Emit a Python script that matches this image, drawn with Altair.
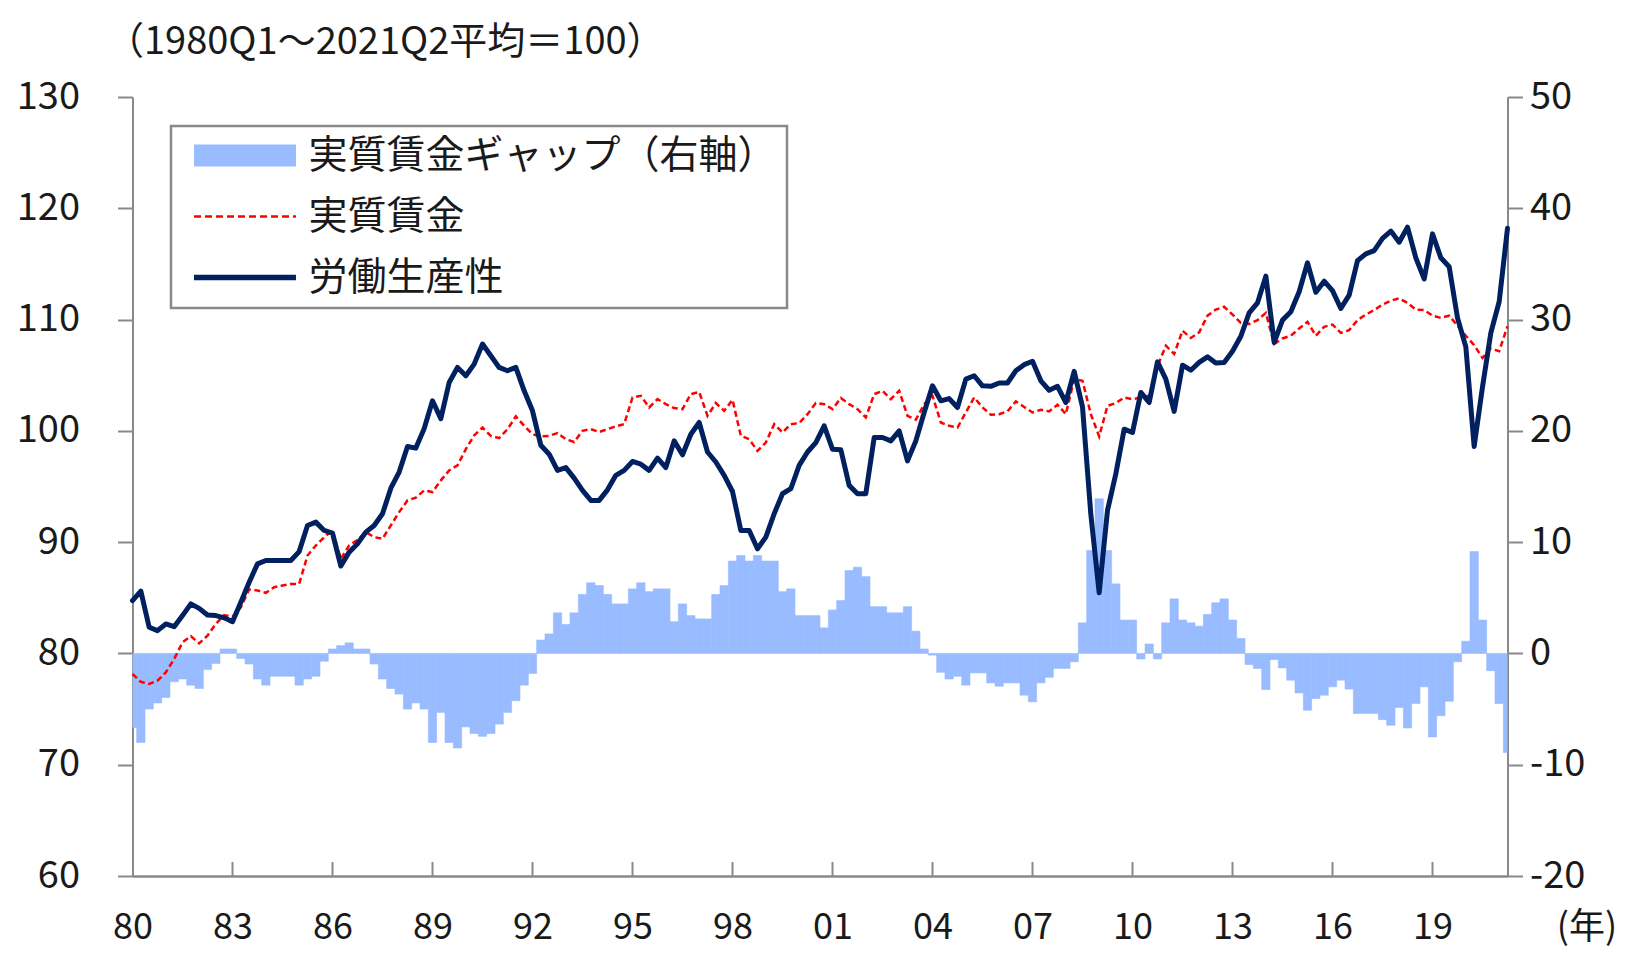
import altair as alt
import pandas as pd

FONT = "Noto Sans CJK JP"
GRAY = "#898989"
TXT = "#1a1a1a"
BLUE = "#99BBFF"
RED = "#FF0000"
NAVY = "#002060"

# 1980Q1 ... 2021Q2 (166 quarters)
start_year = 1980
productivity = [
    84.75, 85.6, 82.35, 82.05, 82.65, 82.4, 83.4, 84.45, 84.05, 83.45,
    83.4, 83.2, 82.85, 84.6, 86.4, 88.05, 88.35, 88.35, 88.35, 88.35,
    89.15, 91.5, 91.8, 91.05, 90.8, 87.85, 89.1, 89.85, 90.9, 91.5,
    92.55, 94.85, 96.3, 98.6, 98.45, 100.2, 102.7, 101.1, 104.35, 105.7,
    104.95, 106.0, 107.8, 106.75, 105.7, 105.4, 105.7, 103.6, 101.8, 98.7,
    97.9, 96.45, 96.7, 95.75, 94.65, 93.75, 93.75, 94.7, 96.0, 96.45,
    97.25, 97.0, 96.45, 97.55, 96.7, 99.1, 97.85, 99.7, 100.75, 98.1,
    97.2, 96.0, 94.55, 91.05, 91.05, 89.4, 90.45, 92.55, 94.35, 94.8,
    96.9, 98.1, 98.95, 100.45, 98.35, 98.3, 95.1, 94.35, 94.35, 99.4,
    99.4, 99.1, 100.0, 97.3, 99.1, 101.65, 104.05, 102.7, 102.9, 102.1,
    104.65, 104.95, 104.05, 104.0, 104.3, 104.3, 105.4, 105.95, 106.25, 104.5,
    103.65, 104.0, 102.55, 105.35, 102.15, 92.5, 85.45, 92.85, 96.15, 100.15,
    99.85, 103.45, 102.55, 106.2, 104.65, 101.75, 105.9, 105.45, 106.15, 106.65,
    106.1, 106.15, 107.15, 108.5, 110.6, 111.5, 113.9, 107.95, 109.95, 110.7,
    112.5, 115.1, 112.45, 113.45, 112.6, 111.0, 112.2, 115.3, 115.9, 116.2,
    117.3, 117.95, 116.95, 118.3, 115.55, 113.65, 117.7, 115.55, 114.75, 110.15,
    107.55, 98.6, 103.95, 108.8, 111.6, 118.2,
]
real_wage = [
    78.15, 77.45, 77.25, 77.55, 78.3, 79.5, 81.0, 81.55, 80.9, 81.6,
    82.65, 83.45, 83.3, 84.15, 85.75, 85.65, 85.45, 85.95, 86.1, 86.25,
    86.25, 88.8, 89.7, 90.45, 91.05, 88.5, 89.7, 90.2, 90.9, 90.45,
    90.3, 91.5, 92.7, 93.75, 94.0, 94.65, 94.5, 95.55, 96.45, 96.9,
    98.35, 99.6, 100.3, 99.55, 99.35, 100.15, 101.3, 100.45, 99.7, 99.5,
    99.55, 99.8, 99.25, 99.0, 100.0, 100.15, 99.9, 100.15, 100.4, 100.6,
    103.0, 103.15, 102.1, 102.85, 102.4, 102.05, 101.95, 103.3, 103.5, 101.35,
    102.5, 101.8, 102.8, 99.55, 99.25, 98.2, 98.95, 100.6, 99.85, 100.6,
    100.7, 101.5, 102.5, 102.4, 101.95, 102.95, 102.4, 101.95, 101.2, 103.3,
    103.6, 102.85, 103.6, 101.35, 101.0, 102.4, 103.15, 100.75, 100.45, 100.3,
    101.65, 103.0, 102.1, 101.45, 101.5, 101.75, 102.65, 102.15, 101.65, 101.9,
    101.75, 102.35, 101.5, 104.65, 104.5, 101.5, 99.5, 102.25, 102.5, 103.0,
    102.85, 103.0, 103.15, 105.8, 107.65, 106.9, 109.0, 108.35, 108.85, 110.35,
    110.9, 111.15, 110.45, 109.7, 109.6, 109.95, 110.6, 107.8, 108.3, 108.55,
    109.2, 109.8, 108.55, 109.35, 109.55, 108.8, 109.05, 109.95, 110.45, 110.85,
    111.35, 111.7, 111.9, 111.5, 110.9, 110.85, 110.35, 110.15, 110.35, 109.45,
    108.55, 107.7, 106.55, 107.4, 107.15, 109.4,
]
wage_gap = [
    -6.65, -8.0, -5.0, -4.45, -3.95, -2.55, -2.3, -2.85, -3.15, -1.45,
    -0.9, 0.4, 0.4, -0.45, -0.95, -2.3, -2.85, -2.05, -2.05, -2.05,
    -2.85, -2.3, -2.05, -0.7, 0.4, 0.7, 0.95, 0.4, 0.4, -0.95,
    -2.3, -3.15, -3.65, -5.0, -4.45, -5.0, -8.0, -5.3, -8.0, -8.5,
    -6.6, -7.2, -7.45, -7.2, -6.35, -5.3, -4.25, -2.85, -1.8, 1.2,
    1.75, 3.65, 2.6, 3.65, 5.3, 6.35, 6.1, 5.3, 4.45, 4.45,
    5.8, 6.35, 5.55, 5.8, 5.8, 2.85, 4.45, 3.4, 3.1, 3.1,
    5.3, 6.1, 8.3, 8.8, 8.3, 8.8, 8.3, 8.3, 5.55, 5.8,
    3.4, 3.4, 3.4, 2.3, 3.9, 4.75, 7.45, 7.75, 6.9, 4.2,
    4.2, 3.65, 3.65, 4.2, 2.0, 0.4, -0.15, -1.7, -2.3, -2.05,
    -2.85, -1.75, -1.75, -2.65, -2.95, -2.65, -2.65, -3.75, -4.35, -2.65,
    -2.15, -1.35, -1.35, -0.75, 2.75, 9.25, 13.9, 9.25, 6.25, 3.0,
    3.0, -0.5, 0.85, -0.5, 2.75, 4.9, 3.0, 2.75, 2.45, 3.5,
    4.55, 4.9, 3.0, 1.35, -1.0, -1.35, -3.25, -0.55, -1.3, -2.4,
    -3.55, -5.1, -4.05, -3.75, -3.0, -2.4, -3.2, -5.4, -5.4, -5.4,
    -5.95, -6.45, -4.85, -6.7, -4.5, -3.0, -7.5, -5.6, -4.3, -0.75,
    1.1, 9.15, 3.0, -1.55, -4.5, -8.9,
]
tick_years = [1980, 1983, 1986, 1989, 1992, 1995, 1998, 2001, 2004, 2007,
              2010, 2013, 2016, 2019]
left_ticks = [60, 70, 80, 90, 100, 110, 120, 130]
right_ticks = [-20, -10, 0, 10, 20, 30, 40, 50]
legend_names = ["実質賃金ギャップ（右軸）", "実質賃金", "労働生産性"]
top_note = "（1980Q1～2021Q2平均＝100）"
year_note = "(年)"

n = len(productivity)
df = pd.DataFrame({
    "t": [start_year + k / 4 for k in range(n)],
    "prod": productivity,
    "wage": real_wage,
    "gap": wage_gap,
})
df["t0"] = df["t"] - 0.125
df["t1"] = df["t"] + 0.125
ticks_df = pd.DataFrame({"yr": tick_years[1:]})
legend_df = pd.DataFrame({"series": legend_names})

W, H = 1375, 779

xscale = alt.Scale(domain=[1980, 2021.25], nice=False, zero=False)
xaxis = alt.Axis(
    values=tick_years, labelExpr="slice(toString(datum.value), 2)",
    ticks=False, grid=False, domainColor=GRAY, domainWidth=2.5,
    labelFontSize=36, labelPadding=34, labelColor=TXT, labelFlush=False,
    title=year_note, titleX=1454, titleY=51, titleAngle=0, titleAlign="center",
    titleBaseline="middle", titleFontSize=36, titleFontWeight="normal", titleColor=TXT,
)
left_axis = alt.Axis(
    orient="left", values=left_ticks, grid=False, tickSize=15, tickWidth=2,
    tickColor=GRAY, domainColor=GRAY, domainWidth=2, labelFontSize=38,
    labelPadding=38, labelColor=TXT, labelFlush=False,
    title=top_note, titleAngle=0, titleX=-27, titleY=-44, titleAlign="left",
    titleBaseline="alphabetic", titleFontSize=38, titleFontWeight="normal", titleColor=TXT,
)
right_axis = alt.Axis(
    orient="right", values=right_ticks, grid=False, tickSize=15, tickWidth=2,
    tickColor=GRAY, domainColor=GRAY, domainWidth=2, labelFontSize=38,
    labelPadding=7, labelColor=TXT, labelFlush=False,
    labelExpr="datum.value < 0 ? '-' + abs(datum.value) : '' + datum.value",
    title=None,
)

bars = alt.Chart(df).mark_bar(color=BLUE, stroke=BLUE, strokeWidth=0.6, clip=True).encode(
    x=alt.X("t0:Q", scale=xscale, axis=xaxis),
    x2="t1:Q",
    y=alt.Y("gap:Q", scale=alt.Scale(domain=[-20, 50], nice=False, zero=False), axis=right_axis),
    y2=alt.datum(0),
)

lscale = alt.Scale(domain=[60, 130], nice=False, zero=False)
red = alt.Chart(df).mark_line(color=RED, strokeWidth=2.5, strokeDash=[6, 3.5]).encode(
    x=alt.X("t:Q", scale=xscale, axis=xaxis),
    y=alt.Y("wage:Q", scale=lscale, axis=left_axis),
)
navy = alt.Chart(df).mark_line(color=NAVY, strokeWidth=5, strokeJoin="round", strokeCap="round").encode(
    x=alt.X("t:Q", scale=xscale, axis=xaxis),
    y=alt.Y("prod:Q", scale=lscale, axis=left_axis),
)
lines = alt.layer(red, navy)

ticks = alt.Chart(ticks_df).mark_rule(color=GRAY, strokeWidth=2).encode(
    x=alt.X("yr:Q", scale=xscale, axis=xaxis),
    y=alt.value(H - 14),
    y2=alt.value(H),
)

# legend symbols (custom shapes), unit = 11px with symbolSize 484
def rect(x0, x1, h):
    return f"M{x0:.3f},{-h:.3f}H{x1:.3f}V{h:.3f}H{x0:.3f}Z"

x_left, x_right = -1.0, 8.27
p_bar = rect(x_left, x_right, 1.0)
p_navy = rect(x_left, x_right, 0.25)
dash_parts = []
xx = x_left
while xx < x_right:
    dash_parts.append(rect(xx, min(xx + 0.64, x_right), 0.12))
    xx += 1.0
p_red = "".join(dash_parts)

leg = alt.Legend(
    orient="none", legendX=38.5, legendY=29, title=None, direction="vertical",
    symbolSize=484, symbolStrokeWidth=0, symbolOffset=4.5, labelOffset=84,
    labelFontSize=39, labelFont=FONT, labelColor=TXT, labelLimit=1000,
    rowPadding=21, padding=10, strokeColor=GRAY, fillColor="white",
)
legend_layer = alt.Chart(legend_df).transform_filter("false").mark_point(filled=True, opacity=1).encode(
    fill=alt.Fill("series:N", scale=alt.Scale(domain=legend_names, range=[BLUE, RED, NAVY]), legend=leg),
    shape=alt.Shape("series:N", scale=alt.Scale(domain=legend_names, range=[p_bar, p_red, p_navy]), legend=leg),
)

chart = alt.layer(bars, lines, ticks, legend_layer).resolve_scale(
    y="independent"
).properties(
    width=W, height=H,
    padding={"left": 124.5, "top": 89, "right": 111.5, "bottom": 76},
    autosize=alt.AutoSizeParams(type="none"),
    background="white",
).configure(font=FONT).configure_view(stroke=None).configure_legend(strokeWidth=2.5)

chart.save("out.html", embed_options={"renderer": "svg", "actions": False})
